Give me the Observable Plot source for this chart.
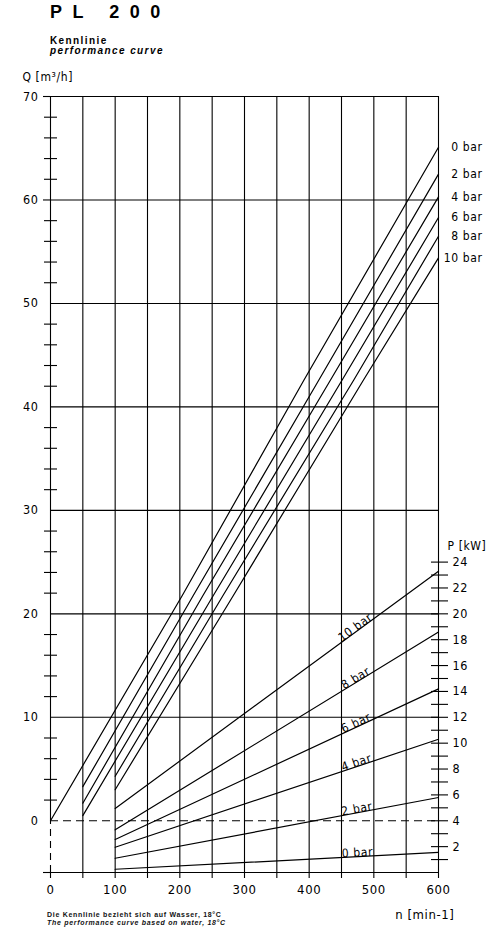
<!DOCTYPE html>
<html>
<head>
<meta charset="utf-8">
<script src="https://cdn.jsdelivr.net/npm/d3@7"></script>
<script src="https://cdn.jsdelivr.net/npm/@observablehq/plot@0.6"></script>
<style>
  html, body { margin: 0; padding: 0; background: white; }
  body { position: relative; width: 493px; height: 929px; overflow: hidden; font-family: 'Liberation Sans', Arial, sans-serif; color: #000; }
  .abs { position: absolute; white-space: nowrap; }
  #chart { position: absolute; left: 0; top: 64px; }
</style>
</head>
<body>
<div class="abs" style="left:50px;top:3px;font-weight:bold;font-size:18px;line-height:18px;letter-spacing:10.5px;">PL 200</div>
<div class="abs" style="left:50px;top:36px;font-weight:bold;font-size:10px;line-height:10px;letter-spacing:1.4px;">Kennlinie</div>
<div class="abs" style="left:50px;top:46px;font-style:italic;font-weight:bold;font-size:10px;line-height:10px;letter-spacing:1.4px;">performance curve</div>
<div id="chart"></div>
<div class="abs" style="left:47px;top:911px;font-weight:bold;font-size:7px;line-height:7.5px;letter-spacing:0.7px;color:#111;">
  <div>Die Kennlinie bezieht sich auf Wasser, 18°C</div>
  <div style="font-style:italic;">The performance curve based on water, 18°C</div>
</div>
<script>
// ---------- data ----------
const pressures = ["0 bar", "2 bar", "4 bar", "6 bar", "8 bar", "10 bar"];
// flow curves Q [m³/h] vs speed n [min-1]
const qSpeed = [
  [0, 204, 392, 600],
  [50, 221, 415, 600],
  [50, 236, 433, 600],
  [50, 252, 451, 600],
  [100, 267, 469, 600],
  [100, 283, 484, 600]
];
const qFlow = [
  [0, 21.8, 42.6, 65.1],
  [3.3, 21.8, 42.6, 62.5],
  [1.7, 21.8, 42.6, 60.3],
  [0.5, 21.8, 42.6, 58.3],
  [4.3, 21.8, 42.6, 56.5],
  [3.0, 21.8, 42.6, 54.4]
];
// power curves P [kW] vs speed
const pSpeed = [100, 600];
const pPower = [
  [0.25, 1.55],
  [1.1, 5.8],
  [1.95, 10.3],
  [2.55, 14.2],
  [3.3, 18.6],
  [4.95, 23.3]
];
const speedGrid = d3.range(0, 601, 50);
const speedLabels = d3.range(0, 601, 100);
const qLabels = d3.range(0, 71, 10);
const qMinor = d3.range(2, 70, 2).filter(v => v % 10 !== 0);
const pTicks = d3.range(1, 25, 1);
const pLabels = d3.range(2, 25, 2);
const labelSpeed = 475;

// ---------- layout ----------
const W = 493, H = 865;
const mL = 50, mR = 55, mT = 32, mB = 57;
const qDomain = [-5, 70];
const nDomain = [0, 600];
// P axis is aligned so that P=4 kW sits on Q=0 and P=24 kW on Q=25
const pToQ = p => (p - 4) * 1.25;
const qToP = v => v / 1.25 + 4;

const qRows = pressures.flatMap((lab, i) => qSpeed[i].map((n, j) => ({lab, n, q: qFlow[i][j]})));
const pRows = pressures.flatMap((lab, i) => pSpeed.map((n, j) => ({lab, n, q: pToQ(pPower[i][j])})));
const qEnds = pressures.map((lab, i) => ({lab, n: nDomain[1], q: qFlow[i][qFlow[i].length - 1]}));
const pxN = (W - mL - mR) / (nDomain[1] - nDomain[0]);
const pxQ = (H - mT - mB) / (qDomain[1] - qDomain[0]);
const pText = pressures.map((lab, i) => {
  const [p0, p1] = pPower[i];
  const t = (labelSpeed - pSpeed[0]) / (pSpeed[1] - pSpeed[0]);
  const p = p0 + (p1 - p0) * t;
  const ang = -Math.atan(((p1 - p0) * 1.25 * pxQ) / ((pSpeed[1] - pSpeed[0]) * pxN)) * 180 / Math.PI;
  return {lab, n: labelSpeed, q: pToQ(p), ang};
});

const F = "'Liberation Sans Narrow', 'DejaVu Sans Condensed', sans-serif";

const chart = Plot.plot({
  width: W, height: H,
  marginLeft: mL, marginRight: mR, marginTop: mT, marginBottom: mB,
  x: {domain: nDomain, label: null},
  y: {domain: qDomain, label: null},
  style: {fontFamily: F, fontSize: "12px", background: "white", color: "black", overflow: "visible", letterSpacing: "0.6px"},
  marks: [
    // grid
    Plot.ruleX(speedGrid.filter(v => v > 0), {y1: qDomain[0], y2: qDomain[1], stroke: "black", strokeWidth: 1.1}),
    Plot.ruleX([0], {y1: 0, y2: qDomain[1], stroke: "black", strokeWidth: 1.1}),
    Plot.ruleX([0], {y1: qDomain[0], y2: 0, stroke: "black", strokeWidth: 1.1, strokeDasharray: "7,5"}),
    Plot.ruleY(qLabels.filter(v => v > 0), {stroke: "black", strokeWidth: 1.1}),
    Plot.ruleY([qDomain[0]], {stroke: "black", strokeWidth: 1.1}),
    Plot.ruleY([0], {stroke: "black", strokeWidth: 1.1, strokeDasharray: "8,5"}),
    // x axis
    Plot.axisX(speedGrid, {anchor: "bottom", tickSize: 6, fill: "none", strokeWidth: 1.1}),
    Plot.axisX(speedLabels, {anchor: "bottom", tickSize: 0, tickPadding: 12, fontSize: 13, label: null}),
    // left Q axis
    Plot.axisY(qMinor, {anchor: "left", tickSize: 13, dx: 7, fill: "none", strokeWidth: 1.1}),
    Plot.axisY([qDomain[0], 60, 70], {anchor: "left", tickSize: 7, fill: "none", strokeWidth: 1.1}),
    Plot.axisY(qLabels, {anchor: "left", tickSize: 0, tickPadding: 12, fontSize: 12.5, label: null}),
    // right P axis
    Plot.axisY(pTicks.map(pToQ), {anchor: "right", tickSize: 17, dx: -8, fill: "none", strokeWidth: 1.1}),
    Plot.axisY(pLabels.map(pToQ), {anchor: "right", tickSize: 0, tickPadding: 14, fontSize: 12.5, label: null,
      tickFormat: v => String(Math.round(qToP(v)))}),
    // curves
    Plot.line(qRows, {x: "n", y: "q", z: "lab", stroke: "black", strokeWidth: 1.2}),
    Plot.line(pRows, {x: "n", y: "q", z: "lab", stroke: "black", strokeWidth: 1.2}),
    // labels
    Plot.text(qEnds, {x: "n", y: "q", text: "lab", textAnchor: "end", dx: 44, fontSize: 12}),
    Plot.text(pText, {x: "n", y: "q", text: "lab", rotate: "ang", lineAnchor: "bottom", textAnchor: "middle", fontSize: 12}),
    Plot.text(["Q [m³/h]"], {frameAnchor: "top-left", textAnchor: "start", lineAnchor: "middle", dx: -28, dy: -19, fontSize: 12}),
    Plot.text(["P [kW]"], {frameAnchor: "top-right", textAnchor: "start", lineAnchor: "middle", dx: 9, dy: 450, fontSize: 12}),
    Plot.text(["n [min-1]"], {frameAnchor: "bottom-right", textAnchor: "end", lineAnchor: "middle", dx: 16, dy: 42, fontSize: 13})
  ]
});
document.getElementById("chart").appendChild(chart);
</script>
</body>
</html>
